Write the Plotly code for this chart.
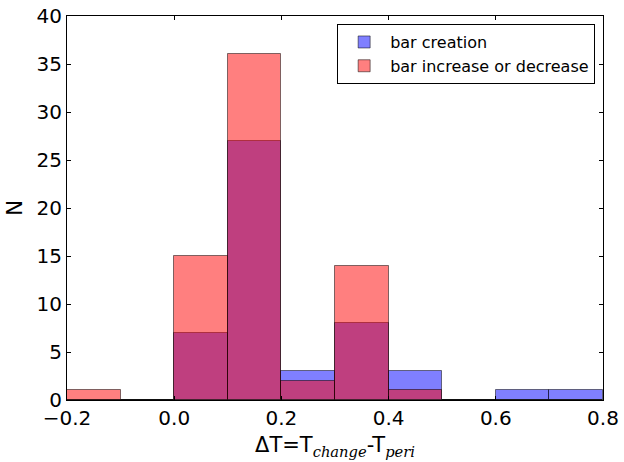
import plotly.graph_objects as go

# Histogram bins (width 0.1) from -0.2 to 0.8
bin_left = [-0.2, -0.1, 0.0, 0.1, 0.2, 0.3, 0.4, 0.5, 0.6, 0.7]
creation_counts = [0, 0, 7, 27, 3, 8, 3, 0, 1, 1]
change_counts = [1, 0, 15, 36, 2, 14, 1, 0, 0, 0]
bin_width = 0.1

x_ticks = [-0.2, 0.0, 0.2, 0.4, 0.6, 0.8]
x_tick_text = ["\u22120.2", "0.0", "0.2", "0.4", "0.6", "0.8"]
y_ticks = [0, 5, 10, 15, 20, 25, 30, 35, 40]

centers = [b + bin_width / 2 for b in bin_left]

fig = go.Figure()
fig.add_trace(go.Bar(
    x=centers, y=creation_counts, width=bin_width,
    name="bar creation",
    marker=dict(color="rgba(0,0,255,0.5)", line=dict(color="rgba(0,0,0,0.5)", width=1)),
))
fig.add_trace(go.Bar(
    x=centers, y=change_counts, width=bin_width,
    name="bar increase or decrease",
    marker=dict(color="rgba(255,0,0,0.5)", line=dict(color="rgba(0,0,0,0.5)", width=1)),
))

axis_common = dict(
    showline=True, linecolor="black", linewidth=1, mirror="ticks",
    ticks="inside", ticklen=4, tickcolor="black", showgrid=False, zeroline=False,
    automargin=False,
    tickfont=dict(family="DejaVu Sans", size=20, color="black"),
)

# italic serif subscripts, as in math text
sub = '<sub><span style="font-family:DejaVu Serif,serif;font-style:italic">{}</span></sub>'
x_title = "\u0394T=T" + sub.format("change") + "-T" + sub.format("peri")

fig.update_layout(
    width=624, height=462,
    margin=dict(l=67, r=21, t=16, b=62),
    barmode="overlay", bargap=0,
    paper_bgcolor="white", plot_bgcolor="white",
    font=dict(family="DejaVu Sans", color="black"),
    xaxis=dict(range=[-0.2, 0.8], tickvals=x_ticks, ticktext=x_tick_text,
               title=dict(text=x_title, font=dict(size=21), standoff=8),
               **axis_common),
    yaxis=dict(range=[0, 40], tickvals=y_ticks,
               title=dict(text="N", font=dict(size=21), standoff=8),
               **axis_common),
    legend=dict(x=0.504, y=0.979, xanchor="left", yanchor="top",
                bordercolor="black", borderwidth=1, bgcolor="white",
                font=dict(size=16), tracegroupgap=0, itemwidth=42),
    showlegend=True,
)

fig.write_html("out.html")
